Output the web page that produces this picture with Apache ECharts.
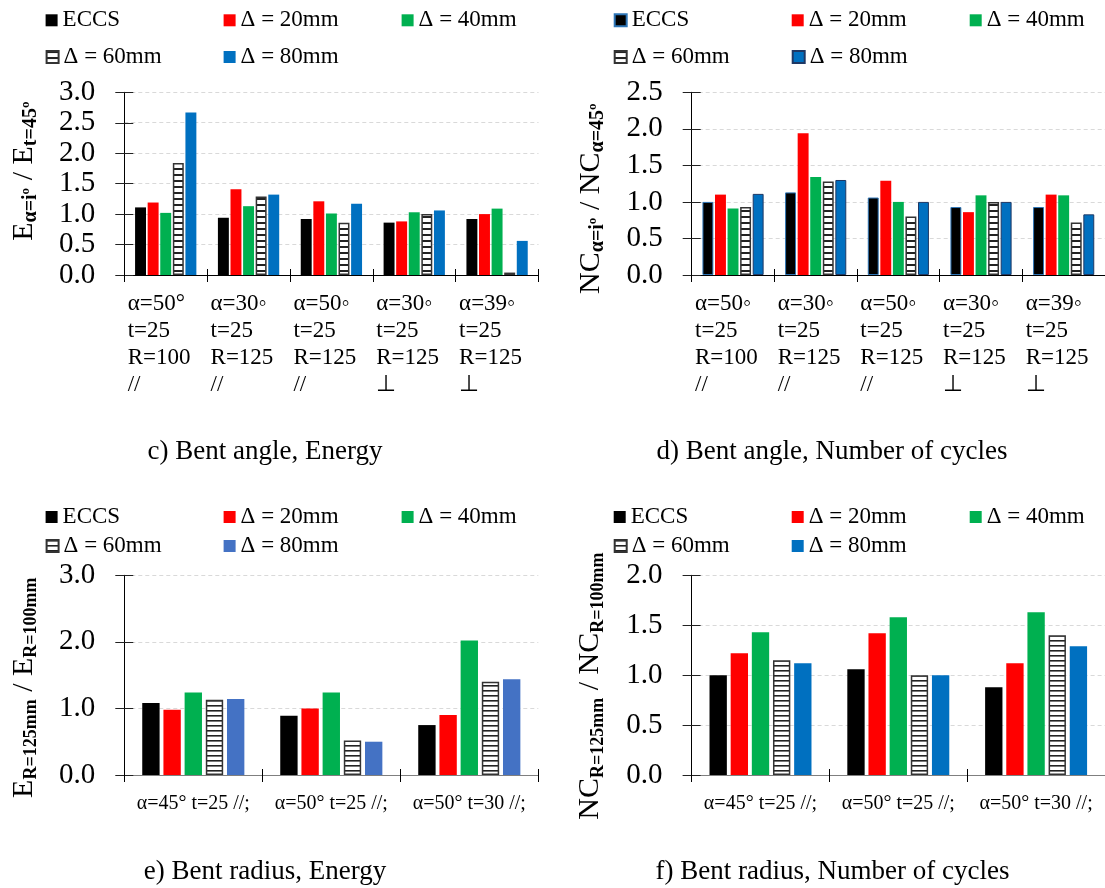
<!DOCTYPE html>
<html><head><meta charset="utf-8">
<script src="https://cdn.jsdelivr.net/npm/echarts@6/dist/echarts.min.js"></script>
<style>html,body{margin:0;padding:0;background:#fff}#chart{width:1105px;height:888px}</style>
</head><body><div id="chart"></div>
<script>
// ---------- DATA ----------
const seriesNames = ['ECCS', 'Δ = 20mm', 'Δ = 40mm', 'Δ = 60mm', 'Δ = 80mm'];

const catsAngleC = ['α=50°\nt=25\nR=100\n//', 'α=30◦\nt=25\nR=125\n//', 'α=50◦\nt=25\nR=125\n//', 'α=30◦\nt=25\nR=125\n⊥', 'α=39◦\nt=25\nR=125\n⊥'];
const catsAngleD = ['α=50◦\nt=25\nR=100\n//', 'α=30◦\nt=25\nR=125\n//', 'α=50◦\nt=25\nR=125\n//', 'α=30◦\nt=25\nR=125\n⊥', 'α=39◦\nt=25\nR=125\n⊥'];
const catsRadius = ['α=45° t=25 //;', 'α=50° t=25 //;', 'α=50° t=30 //;'];

const ticksC = [0.0, 0.5, 1.0, 1.5, 2.0, 2.5, 3.0];
const ticksD = [0.0, 0.5, 1.0, 1.5, 2.0, 2.5];
const ticksE = [0.0, 1.0, 2.0, 3.0];
const ticksF = [0.0, 0.5, 1.0, 1.5, 2.0];

// c) Bent angle, Energy
const cECCS = [1.11, 0.94, 0.92, 0.86, 0.92];
const c20   = [1.19, 1.41, 1.21, 0.88, 1.00];
const c40   = [1.02, 1.13, 1.01, 1.03, 1.09];
const c60   = [1.84, 1.29, 0.86, 1.00, 0.04];
const c80   = [2.67, 1.32, 1.17, 1.06, 0.56];
// d) Bent angle, Number of cycles
const dECCS = [1.00, 1.13, 1.06, 0.93, 0.93];
const d20   = [1.10, 1.94, 1.29, 0.86, 1.10];
const d40   = [0.91, 1.34, 1.00, 1.09, 1.09];
const d60   = [0.93, 1.28, 0.80, 1.00, 0.72];
const d80   = [1.11, 1.30, 1.00, 1.00, 0.83];
// e) Bent radius, Energy
const eECCS = [1.08, 0.89, 0.75];
const e20   = [0.98, 1.00, 0.90];
const e40   = [1.24, 1.24, 2.02];
const e60   = [1.13, 0.52, 1.40];
const e80   = [1.14, 0.50, 1.44];
// f) Bent radius, Number of cycles
const fECCS = [1.00, 1.06, 0.88];
const f20   = [1.22, 1.42, 1.12];
const f40   = [1.43, 1.58, 1.63];
const f60   = [1.15, 1.00, 1.40];
const f80   = [1.12, 1.00, 1.29];

const titleC = 'c) Bent angle, Energy';
const titleD = 'd) Bent angle, Number of cycles';
const titleE = 'e) Bent radius, Energy';
const titleF = 'f) Bent radius, Number of cycles';

// ---------- STYLE ----------
const FONT = '"Liberation Serif","Times New Roman",serif';
function hatch(period, lw) {
  const cv = document.createElement('canvas');
  cv.width = 4; cv.height = period;
  const ctx = cv.getContext('2d');
  ctx.fillStyle = '#fff'; ctx.fillRect(0, 0, 4, period);
  ctx.fillStyle = '#222'; ctx.fillRect(0, 0, 4, lw);
  return { image: cv, repeat: 'repeat' };
}

const panels = [
  { key: 'c', cats: catsAngleC, ticks: ticksC, data: [cECCS, c20, c40, c60, c80], title: titleC,
    grid: { left: 124.3, top: 92.3, width: 414.2, height: 182.7 },
    yName: '{m|E}{s|α=iº}{m| / E}{s|t=45º}', namePad: [0, 0, 0, 25], nameGap: 82,
    legend: { left: 45.6, rows: [20.3, 57] }, multiLine: true,
    gapCat: '26%', gap: '15%', hatch: hatch(6, 2),
    colors: ['#000000', '#ff0000', '#00b050', null, '#0070c0'],
    borders: [null, null, null, '#333', null],
    titlePos: [265, 452] },
  { key: 'd', cats: catsAngleD, ticks: ticksD, data: [dECCS, d20, d40, d60, d80], title: titleD,
    grid: { left: 691.7, top: 92.3, width: 413.3, height: 182.7 },
    yName: '{m|NC}{s|α=iº}{m| / NC}{s|α=45º}', namePad: [0, 30, 0, 0], nameGap: 83,
    legend: { left: 613.7, rows: [20.3, 57] }, multiLine: true,
    gapCat: '26%', gap: '15%', hatch: hatch(6, 2),
    colors: ['#000000', '#ff0000', '#00b050', null, '#0070c0'],
    borders: ['#2e75b6', null, null, '#333', '#1f3864'],
    titlePos: [832, 452] },
  { key: 'e', cats: catsRadius, ticks: ticksE, data: [eECCS, e20, e40, e60, e80], title: titleE,
    grid: { left: 124.3, top: 575.3, width: 414, height: 199.7 },
    yName: '{m|E}{t|R=125mm}{m| / E}{t|R=100mm}', namePad: [0, 25, 0, 0], nameGap: 82,
    legend: { left: 45.6, rows: [517, 546] }, multiLine: false,
    gapCat: '26%', gap: '22%', hatch: hatch(5, 1.6),
    colors: ['#000000', '#ff0000', '#00b050', null, '#4472c4'],
    borders: [null, null, null, '#333', null],
    titlePos: [265, 872] },
  { key: 'f', cats: catsRadius, ticks: ticksF, data: [fECCS, f20, f40, f60, f80], title: titleF,
    grid: { left: 691.6, top: 575.3, width: 413.4, height: 199.7 },
    yName: '{m|NC}{t|R=125mm}{m| / NC}{t|R=100mm}', namePad: [0, 22, 0, 0], nameGap: 83,
    legend: { left: 613.7, rows: [517, 546] }, multiLine: false,
    gapCat: '26%', gap: '22%', hatch: hatch(5, 1.6),
    colors: ['#000000', '#ff0000', '#00b050', null, '#0070c0'],
    borders: [null, null, null, '#333', null],
    titlePos: [832.5, 872] }
];

const option = { animation: false, backgroundColor: '#fff', grid: [], xAxis: [], yAxis: [], series: [], legend: [], graphic: [] };

panels.forEach((p, i) => {
  option.grid.push(Object.assign({ outerBoundsMode: 'none', containLabel: false }, p.grid));
  const min = p.ticks[0], max = p.ticks[p.ticks.length - 1], interval = p.ticks[1] - p.ticks[0];
  const darkAxis = p.multiLine ? '#000' : '#7f7f7f';
  option.xAxis.push({
    gridIndex: i, type: 'category', data: p.cats, position: 'bottom',
    axisLine: { show: true, lineStyle: { color: darkAxis, width: 1 } },
    axisTick: { show: true, length: 7, lineStyle: { color: '#000' } },
    splitLine: { show: false },
    axisLabel: p.multiLine ? {
      interval: 0, margin: 15, color: '#000', fontFamily: FONT, fontSize: 23, lineHeight: 27,
      align: 'left', padding: [0, 0, 0, -38]
    } : {
      interval: 0, margin: 17, color: '#000', fontSize: 20, lineHeight: 24, fontFamily: FONT
    }
  });
  option.xAxis.push({
    gridIndex: i, type: 'category', data: p.cats, position: 'bottom',
    axisLine: { show: false }, axisLabel: { show: false }, splitLine: { show: false },
    axisTick: { show: true, inside: true, length: 6, lineStyle: { color: '#000' } }
  });
  option.yAxis.push({
    gridIndex: i, type: 'value', min, max, interval, position: 'left',
    axisLine: { show: true, lineStyle: { color: '#000', width: 1 } },
    axisTick: { show: true, length: 9, lineStyle: { color: '#222' } },
    axisLabel: { margin: 29, color: '#000', fontSize: 29, fontFamily: FONT, formatter: v => v.toFixed(1) },
    splitLine: { show: true, lineStyle: { color: '#d9d9d9', width: 1, type: [4, 3] } },
    name: p.yName, nameLocation: 'middle', nameGap: p.nameGap,
    nameTextStyle: {
      padding: p.namePad, color: '#000', fontFamily: FONT,
      rich: {
        m: { fontSize: 30, fontFamily: FONT, color: '#000', lineHeight: 36 },
        s: { fontSize: 20, fontWeight: 'bold', fontFamily: FONT, color: '#000', lineHeight: 20, padding: [14, 0, 0, 0] },
        t: { fontSize: 18, fontWeight: 'bold', fontFamily: FONT, color: '#000', lineHeight: 18, padding: [15, 0, 0, 0] }
      }
    }
  });
  option.yAxis.push({
    gridIndex: i, type: 'value', min, max, interval, position: 'left',
    axisLine: { show: false }, axisLabel: { show: false }, splitLine: { show: false },
    axisTick: { show: true, inside: true, length: 9, lineStyle: { color: '#222' } }
  });

  const names = seriesNames.map(n => n + '#' + p.key);
  names.forEach((nm, k) => {
    const isHatch = k === 3;
    option.series.push({
      type: 'bar', name: nm, xAxisIndex: 2 * i, yAxisIndex: 2 * i,
      data: p.data[k], barCategoryGap: p.gapCat, barGap: p.gap,
      itemStyle: {
        color: isHatch ? p.hatch : p.colors[k],
        borderColor: p.borders[k] || 'transparent',
        borderWidth: p.borders[k] ? (isHatch ? 1.5 : 1) : 0
      },
      emphasis: { disabled: true }, silent: true
    });
    const col = k % 3, row = Math.floor(k / 3);
    option.legend.push({
      left: p.legend.left + 178 * col, top: p.legend.rows[row] - 12, padding: 0,
      orient: 'horizontal', itemWidth: 12, itemHeight: 12, itemGap: 5, icon: 'rect',
      selectedMode: false, data: [nm],
      formatter: name => name.split('#')[0],
      textStyle: { fontFamily: FONT, fontSize: 23, color: '#000', lineHeight: 24 }
    });
  });

  option.graphic.push({
    type: 'text', x: p.titlePos[0], y: p.titlePos[1], silent: true,
    style: { text: p.title, fill: '#000', font: '27px ' + FONT, textAlign: 'center', textVerticalAlign: 'middle' }
  });
});

const chart = echarts.init(document.getElementById('chart'), null, { renderer: 'canvas' });
chart.setOption(option);
</script>
</body></html>
